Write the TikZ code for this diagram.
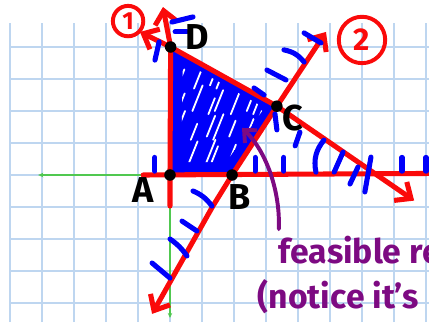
\documentclass[tikz,border=0pt]{standalone}
\usepackage{fontspec}
\setsansfont{Fira Sans}
\usepackage{tikz}
\usetikzlibrary{arrows.meta, positioning, calc}

\definecolor{gridblue}{RGB}{190,214,240}
\definecolor{redink}{RGB}{250,10,10}
\definecolor{blueink}{RGB}{0,0,250}
\definecolor{greenink}{RGB}{80,200,80}
\definecolor{purpleink}{RGB}{125,10,130}

\begin{document}
\begin{tikzpicture}[
    gridline/.style={draw=gridblue, line width=1.3pt},
    axisline/.style={draw=greenink, line width=1.2pt, -{Stealth[length=1.6mm, width=1.4mm]}},
    redline/.style={draw=redink, line width=4.5pt, line cap=round, line join=round},
    redtip/.tip={Straight Barb[length=4mm, width=7mm]},
    hatchmark/.style={draw=blueink, line width=4.5pt, line cap=round},
    streak/.style={draw=white, line width=1.6pt, line cap=round},
    vertex/.style={circle, fill=black, minimum size=0.36cm, inner sep=0pt},
    vlabel/.style={text=black, font=\sffamily\bfseries\fontsize{32}{34}\selectfont},
    tag/.style={circle, draw=redink, line width=3.5pt, text=redink, inner sep=0pt},
    note/.style={text=purpleink, anchor=base west, font=\sffamily\bfseries\fontsize{30}{34}\selectfont},
    pointer/.style={draw=purpleink, line width=3.5pt, line cap=round, -{Straight Barb[length=3mm, width=5.5mm]}}
]

    % Keep the page to the size of the sheet
    \useasboundingbox (-5.3125,-4.59375) rectangle (8.09375,5.46875);

    % Squared paper
    \draw [gridline] (-5,-4.6) grid (8.1,4.75);

    % Corner points and free ends
    \coordinate (pA) at (0,0);
    \coordinate (pB) at (1.94,0);
    \coordinate (pC) at (3.34,2.15);
    \coordinate (pD) at (0.02,4.0);
    \coordinate (oneL) at (-0.94,4.47);
    \coordinate (oneR) at (7.63,-0.8);
    \coordinate (twoL) at (-0.56,-4.34);
    \coordinate (twoK) at (1.34,-0.97);
    \coordinate (twoR) at (4.875,4.47);
    \coordinate (vBot) at (0,-0.97);
    \coordinate (vTop) at (-0.22,5.25);
    \coordinate (hL) at (-0.84,0);
    \coordinate (hR) at (8.4,0.05);
    \coordinate (xEnd) at (-4.12,0);
    \coordinate (yEnd) at (0,-4.47);

    % Green axes
    \draw [axisline] (pA) -- (xEnd);
    \draw [axisline] (pA) -- (yEnd);

    % Shaded feasible region
    \fill [blueink] (pA) -- (pB) -- (pC) -- (pD) -- cycle;
    \begin{scope}
        \clip (0.35,0.4) -- (1.75,0.4) -- (2.95,2.1) -- (0.4,3.55) -- cycle;
        \foreach \i in {0,...,9}
            \foreach \j in {0,...,4}
                \draw [streak] ({0.1+0.4*\i-0.35*\j+0.1*mod(\i+2*\j,3)},{0.3+0.8*\j+0.1*mod(\i,2)}) -- ++({0.2+0.06*mod(\i+\j,3)},{0.5+0.15*mod(\i+\j,3)});
    \end{scope}

    % Constraint lines
    \draw [redline] (hL) -- (hR);
    \draw [redline, -redtip] (vBot) -- (pA) -- (pD) -- (vTop);
    \draw [redline, redtip-redtip] (oneL) -- (pD) -- (pC) -- (oneR);
    \draw [redline, redtip-redtip] (twoL) -- (twoK) -- (pB) -- (pC) -- (twoR);

    % Hatch marks on the feasible side
    \draw [hatchmark] (0.06,4.78) -- (0.72,4.94);
    \draw [hatchmark] (0.16,4.47) -- (0.53,4.47);
    \draw [hatchmark] (-0.34,4.16) -- (-0.47,3.59);
    \foreach \x in {-0.47,2.66,3.56,7.25,8.0}
        \draw [hatchmark] (\x,0.55) -- (\x,0.12);
    \draw [hatchmark] (3.28,1.91) -- (3.34,1.41);
    \draw [hatchmark] (4.06,1.34) -- (3.91,0.91);
    \draw [hatchmark] (4.81,1.09) to[bend right=25] (4.56,0.09);
    \draw [hatchmark] (5.41,0.72) -- (5.13,0.09);
    \draw [hatchmark] (5.875,0.25) -- (5.625,-0.28);
    \draw [hatchmark] (6.28,0.56) -- (6.09,-0.53);
    \draw [hatchmark] (4.19,4.44) -- (4.72,4.125);
    \draw [hatchmark] (3.56,3.91) to[bend left=20] (4.19,3.53);
    \draw [hatchmark] (3.03,3.28) -- (3.625,2.97);
    \draw [hatchmark] (2.625,2.72) -- (2.94,2.5);
    \draw [hatchmark] (0.72,-0.5) to[bend left=15] (1.31,-0.97);
    \draw [hatchmark] (0.375,-1.44) -- (0.84,-1.75);
    \draw [hatchmark] (0,-2.0) to[bend left=10] (0.53,-2.53);
    \draw [hatchmark] (-0.56,-2.75) -- (0,-3.22);

    % Corner dots and their letters
    \node [vertex] (A) at (pA) {};
    \node [vertex] (B) at (pB) {};
    \node [vertex] (C) at (pC) {};
    \node [vertex] (D) at (pD) {};
    \node [vlabel] (labA) at (-0.84,-0.47) {A};
    \node [vlabel] (labB) at (2.16,-0.69) {B};
    \node [vlabel] (labC) at (3.84,1.78) {C};
    \node [vlabel] (labD) at (0.84,4.31) {D};

    % Line numbers
    \node [tag, minimum size=0.95cm, font=\sffamily\bfseries\fontsize{22}{22}\selectfont] (tagone) at (-1.31,4.81) {1};
    \node [tag, minimum size=1.45cm, font=\sffamily\bfseries\fontsize{28}{28}\selectfont] (tagtwo) at (6.0,4.22) {2};

    % Note with its pointer
    \node [note] (feas) at (3.28,-2.78) {feasible region};
    \node [note] (notice) at (2.62,-4.16) {(notice it's};
    \coordinate (foot) at (3.4,-1.69);
    \coordinate (head) at (2.25,1.47);
    \draw [pointer] (foot) .. controls (3.45,-0.5) and (3.0,0.75) .. (head);

\end{tikzpicture}
\end{document}
